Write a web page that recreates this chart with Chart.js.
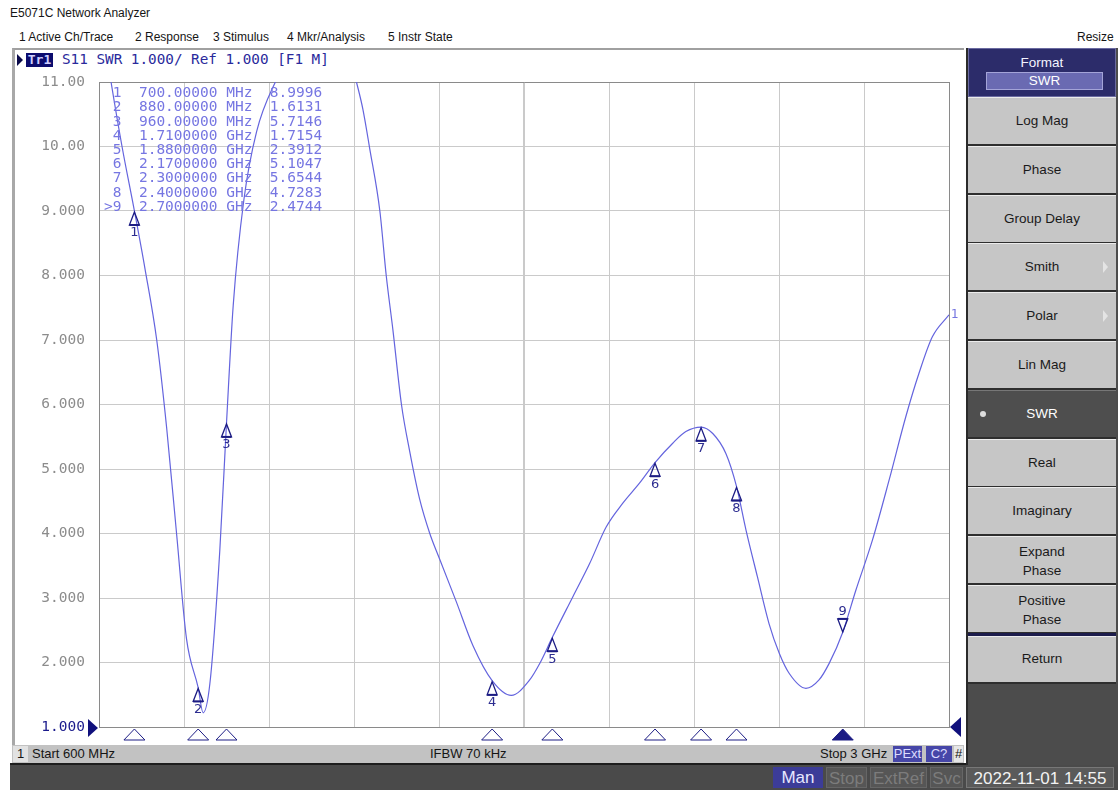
<!DOCTYPE html>
<html><head><meta charset="utf-8">
<script src="https://cdn.jsdelivr.net/npm/chart.js@4.4.0/dist/chart.umd.min.js"></script>
<style>
html,body{margin:0;padding:0;}
body{width:1118px;height:790px;overflow:hidden;position:relative;background:#fff;font-family:"Liberation Sans",Arial,sans-serif;color:#151515;}
.a{position:absolute;white-space:nowrap;}
.menu{top:30px;font-size:12px;}
#win{left:12px;top:48px;width:952px;height:697px;border-left:3px solid #a8a8a8;border-top:2px solid #a0a0a0;box-sizing:border-box;background:#fff;}
#hdr{left:62px;top:51px;font:14.3px "DejaVu Sans Mono",monospace;color:#2a2a9c;}
#tr1{left:26px;top:53px;width:27px;height:14px;background:#0c0c6e;color:#cfd0ff;font:bold 13px "DejaVu Sans Mono",monospace;line-height:14px;text-align:center;}
#tri{left:17px;top:54px;width:0;height:0;border-top:6px solid transparent;border-bottom:6px solid transparent;border-left:6px solid #0a0a4a;}
#cv{left:12px;top:68px;}
#status{left:12px;top:745px;width:952px;height:18px;background:#c2c2c2;font-size:13px;line-height:18px;}
#bottom{left:10px;top:763px;width:1108px;height:27px;background:#4a4a4a;border-top:2px solid #1e1e1e;box-sizing:border-box;}
.sb{top:767px;height:21px;line-height:21px;font-size:17px;text-align:center;box-sizing:border-box;}
#panel{left:966px;top:48px;width:152px;height:717px;background:#4c4c4c;border-left:2px solid #2a2a2a;box-sizing:border-box;}
.key{left:968px;width:148px;background:#c6c6c6;border-top:1px solid #ececec;border-bottom:2px solid #2e2e2e;box-sizing:border-box;font-size:13.5px;text-align:center;color:#1a1a1a;}
</style></head>
<body>
<div class="a" style="left:10px;top:6px;font-size:12px;">E5071C Network Analyzer</div>
<div class="a menu" style="left:19px;">1 Active Ch/Trace</div>
<div class="a menu" style="left:135px;">2 Response</div>
<div class="a menu" style="left:213px;">3 Stimulus</div>
<div class="a menu" style="left:287px;">4 Mkr/Analysis</div>
<div class="a menu" style="left:388px;">5 Instr State</div>
<div class="a menu" style="left:1077px;">Resize</div>

<div class="a" id="win"></div>
<div class="a" id="tri"></div>
<div class="a" id="tr1">Tr1</div>
<div class="a" id="hdr">S11 SWR 1.000/ Ref 1.000 [F1 M]</div>
<canvas class="a" id="cv" width="952" height="677"></canvas>

<div class="a" id="status">
  <div class="a" style="left:1px;top:1px;width:15px;height:16px;background:#e2e2e2;line-height:16px;text-align:center;">1</div>
  <div class="a" style="left:20px;top:0;">Start 600 MHz</div>
  <div class="a" style="left:418px;top:0;">IFBW 70 kHz</div>
  <div class="a" style="left:808px;top:0;">Stop 3 GHz</div>
  <div class="a" style="left:881px;top:1px;width:29px;height:16px;line-height:16px;background:#4646a8;color:#dcdcff;text-align:center;">PExt</div>
  <div class="a" style="left:914px;top:1px;width:26px;height:16px;line-height:16px;background:#4646a8;color:#dcdcff;text-align:center;">C?</div>
  <div class="a" style="left:942px;top:1px;width:9px;height:16px;line-height:16px;background:#e6e6e6;text-align:center;">#</div>
</div>
<div class="a" id="bottom"></div>
<div class="a sb" style="left:773px;width:50px;background:#3c3c98;color:#e8e8ff;">Man</div>
<div class="a sb" style="left:826px;width:41px;background:#565656;color:#7c7c7c;border:1px solid #666;">Stop</div>
<div class="a sb" style="left:870px;width:57px;background:#565656;color:#7c7c7c;border:1px solid #666;">ExtRef</div>
<div class="a sb" style="left:930px;width:33px;background:#565656;color:#7c7c7c;border:1px solid #666;">Svc</div>
<div class="a sb" style="left:966px;width:148px;background:#5a5a5a;color:#f2f2f2;border:1px solid #777;">2022-11-01 14:55</div>

<div class="a" id="panel"></div>
<div class="a" style="left:968px;top:48px;width:148px;height:49px;background:#2c2c6a;border:1px solid #6a6aa0;box-sizing:border-box;"></div>
<div class="a" style="left:968px;top:55px;width:148px;text-align:center;font-size:13.5px;color:#f4f4ff;">Format</div>
<div class="a" style="left:986px;top:72px;width:117px;height:18px;background:#6a6ab2;border:1px solid #a4a4d8;box-sizing:border-box;text-align:center;font-size:13.5px;line-height:16px;color:#fff;">SWR</div>
<div id="keys"></div>

<script>
// ---------------- data ----------------
const freqMHz = [600, 634, 665, 700, 730, 763, 791, 819, 847, 880, 894, 913, 941, 960, 979, 1009, 1045, 1098, 1150, 1250, 1300,
  1327, 1345, 1364, 1393, 1411, 1430, 1454, 1477, 1505, 1534, 1562, 1609, 1656, 1710, 1764, 1816, 1844, 1880,
  1938, 1985, 2032, 2079, 2126, 2170, 2220, 2257, 2300, 2333, 2370, 2400, 2427, 2459, 2492, 2521, 2549, 2596,
  2633, 2662, 2700, 2737, 2784, 2831, 2878, 2915, 2953, 3000];
const swrValues = [12.2, 11.0, 10.0, 9.0, 8.1, 7.0, 5.64, 4.0, 2.37, 1.61, 1.22, 1.67, 3.73, 5.71, 7.54, 9.17, 10.23, 11.0, 11.5, 12.0, 11.6,
  11.0, 10.58, 9.98, 9.0, 8.0, 7.15, 6.0, 5.28, 4.54, 4.0, 3.6, 2.94, 2.26, 1.72, 1.49, 1.73, 1.98, 2.39,
  3.02, 3.53, 4.1, 4.47, 4.78, 5.10, 5.4, 5.58, 5.65, 5.55, 5.24, 4.73, 4.05, 3.33, 2.6, 2.14, 1.83, 1.6,
  1.73, 1.99, 2.47, 3.12, 3.9, 4.83, 5.81, 6.48, 7.05, 7.39];
const markerNo = ['1','2','3','4','5','6','7','8','9'];
const markerFreqMHz = [700, 880, 960, 1710, 1880, 2170, 2300, 2400, 2700];
const markerSWR = [8.9996, 1.6131, 5.7146, 1.7154, 2.3912, 5.1047, 5.6544, 4.7283, 2.4744];
const activeMarker = '9';
const yTickLabels = ['1.000','2.000','3.000','4.000','5.000','6.000','7.000','8.000','9.000','10.00','11.00'];
const xGridMHz = [600, 840, 1080, 1320, 1560, 1800, 2040, 2280, 2520, 2760, 3000];
const softkeys = ['Log Mag','Phase','Group Delay','Smith','Polar','Lin Mag','SWR','Real','Imaginary','Expand<br>Phase','Positive<br>Phase'];

// ---------------- softkey panel (chrome) ----------------
(function(){
  const host = document.getElementById('keys');
  let top = 97;
  softkeys.forEach(k=>{
    const d = document.createElement('div');
    d.className = 'a key';
    d.style.top = top+'px'; d.style.height = '49px';
    const two = k.indexOf('<br>')>=0;
    d.style.lineHeight = two ? '19px' : '46px';
    d.style.paddingTop = two ? '5px' : '0';
    d.innerHTML = k;
    if (k==='SWR'){ d.style.background='#4e4e4e'; d.style.color='#fff'; d.style.borderTop='1px solid #777';
      d.innerHTML = '<span style="position:absolute;left:12px;top:20px;width:6px;height:6px;border-radius:3px;background:#ddd"></span>SWR'; }
    if (k==='Smith'||k==='Polar'){
      d.innerHTML += '<span style="position:absolute;right:8px;top:17px;width:0;height:0;border-top:6px solid transparent;border-bottom:6px solid transparent;border-left:5px solid #e4e4e4"></span>';
    }
    host.appendChild(d);
    top += 48.8;
  });
  const sep = document.createElement('div');
  sep.className='a'; sep.style.cssText='left:968px;top:633px;width:148px;height:3px;background:#1c1c4c;';
  host.appendChild(sep);
  const r = document.createElement('div');
  r.className='a key'; r.style.top='636px'; r.style.height='48px'; r.style.lineHeight='44px'; r.innerHTML='Return';
  host.appendChild(r);
})();

// ---------------- chart ----------------
const traceColor = '#6464de';
const navy = '#1c1c84';

const markerPlugin = {
  id: 'markers',
  afterDatasetsDraw(chart){
    const {ctx, chartArea:a, scales} = chart;
    const xs = scales.x, ys = scales.y;
    ctx.save();
    // marker table
    ctx.font = '14.5px "DejaVu Sans Mono", monospace';
    ctx.fillStyle = '#7676e2';
    ctx.textBaseline = 'middle'; ctx.textAlign = 'left';
    markerFreqMHz.forEach((f,i)=>{
      const n = (markerNo[i]===activeMarker ? '>' : ' ') + markerNo[i];
      const fs = f < 1000 ? f.toFixed(5)+' MHz' : (f/1000).toFixed(7)+' GHz';
      ctx.fillText(n+'  '+fs+'  '+markerSWR[i].toFixed(4), a.left+5, a.top+11.5+i*14.2);
    });
    // markers on the trace and on the stimulus strip
    markerFreqMHz.forEach((f,i)=>{
      const px = xs.getPixelForValue(f), py = ys.getPixelForValue(markerSWR[i]);
      const act = markerNo[i]===activeMarker;
      ctx.strokeStyle = navy; ctx.fillStyle = navy; ctx.lineWidth = 1.3;
      ctx.beginPath();
      if (act){ ctx.moveTo(px, py); ctx.lineTo(px-5, py-13); ctx.lineTo(px+5, py-13); }
      else { ctx.moveTo(px, py+1); ctx.lineTo(px-5, py+14); ctx.lineTo(px+5, py+14); }
      ctx.closePath(); ctx.stroke();
      ctx.lineWidth = 2;
      ctx.beginPath();
      if (act){ ctx.moveTo(px-5, py-13); ctx.lineTo(px+5, py-13); }
      else { ctx.moveTo(px-5, py+14); ctx.lineTo(px+5, py+14); }
      ctx.stroke();
      ctx.font = '13px "DejaVu Sans", sans-serif'; ctx.textAlign = 'center';
      ctx.fillStyle = '#2c2c90';
      ctx.fillText(markerNo[i], px, act ? py-20 : py+22);
      // bottom strip
      const by = a.bottom;
      ctx.beginPath();
      ctx.moveTo(px, by+2); ctx.lineTo(px-10.5, by+13); ctx.lineTo(px+10.5, by+13); ctx.closePath();
      ctx.lineWidth = 1; ctx.strokeStyle = navy;
      if (act){ ctx.fillStyle = navy; ctx.fill(); }
      ctx.stroke();
    });
    // reference level triangles
    const ry = ys.getPixelForValue(1);
    ctx.fillStyle = '#10107c';
    ctx.beginPath(); ctx.moveTo(a.left-1, ry+1); ctx.lineTo(a.left-11, ry-8); ctx.lineTo(a.left-11, ry+10); ctx.closePath(); ctx.fill();
    ctx.beginPath(); ctx.moveTo(a.right+1, ry); ctx.lineTo(a.right+12, ry-10); ctx.lineTo(a.right+12, ry+10); ctx.closePath(); ctx.fill();
    // trace number at the end of the trace
    const lastY = ys.getPixelForValue(swrValues[swrValues.length-1]);
    ctx.fillStyle = '#7474e0'; ctx.textAlign = 'left';
    ctx.font = '12px "DejaVu Sans", sans-serif';
    ctx.fillText('1', a.right+2, lastY);
    ctx.restore();
  }
};

new Chart(document.getElementById('cv'), {
  type: 'line',
  data: { datasets: [{
    data: freqMHz.map((f,i)=>({x:f, y:swrValues[i]})),
    borderColor: traceColor, borderWidth: 1.2, pointRadius: 0,
    cubicInterpolationMode: 'monotone', fill: false
  }]},
  options: {
    responsive: false, animation: false, devicePixelRatio: 1,
    layout: { padding: { left: 0, top: 14, right: 15, bottom: 18 } },
    plugins: { legend: { display: false }, tooltip: { enabled: false } },
    scales: {
      x: {
        type: 'linear', min: 600, max: 3000,
        afterBuildTicks: s => { s.ticks = xGridMHz.map(v => ({ value: v })); },
        afterFit: s => { s.height = 0; s.paddingLeft = 0; s.paddingRight = 0; },
        ticks: { display: false },
        grid: { drawTicks: false,
          color: c => (c.tick && (c.tick.value === 600 || c.tick.value === 3000)) ? '#8a8a8a' : '#cacaca',
          lineWidth: c => (c.tick && c.tick.value === 1800) ? 2 : 1 },
        border: { display: true, color: '#8a8a8a' }
      },
      y: {
        type: 'linear', min: 1, max: 11,
        afterFit: s => { s.width = 87; s.paddingTop = 0; s.paddingBottom = 0; },
        ticks: { stepSize: 1, padding: 14,
          font: { family: '"DejaVu Sans Mono", monospace', size: 14.5 },
          color: c => (c.tick && c.tick.value === 1) ? '#1a1a8c' : '#8c8c8c',
          callback: (v, i) => yTickLabels[i] },
        grid: { drawTicks: false,
          color: c => (c.tick && (c.tick.value === 11 || c.tick.value === 1)) ? '#8a8a8a' : '#cacaca' },
        border: { display: true, color: '#8a8a8a' }
      }
    }
  },
  plugins: [markerPlugin]
});
</script>
</body></html>
